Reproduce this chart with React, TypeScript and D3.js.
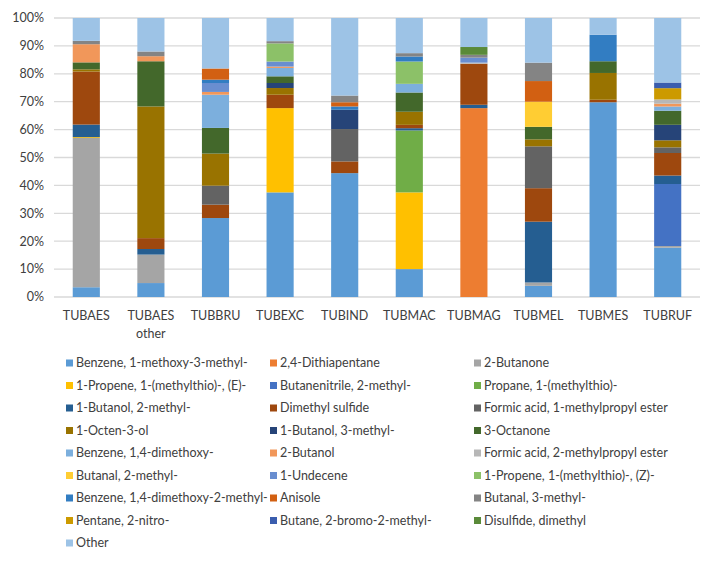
import React from "react";
import * as d3 from "d3";

const categories = ["TUBAES", "TUBAES other", "TUBBRU", "TUBEXC", "TUBIND", "TUBMAC", "TUBMAG", "TUBMEL", "TUBMES", "TUBRUF"];

const seriesNames = [
  "Benzene, 1-methoxy-3-methyl-",
  "2,4-Dithiapentane",
  "2-Butanone",
  "1-Propene, 1-(methylthio)-, (E)-",
  "Butanenitrile, 2-methyl-",
  "Propane, 1-(methylthio)-",
  "1-Butanol, 2-methyl-",
  "Dimethyl sulfide",
  "Formic acid, 1-methylpropyl ester",
  "1-Octen-3-ol",
  "1-Butanol, 3-methyl-",
  "3-Octanone",
  "Benzene, 1,4-dimethoxy-",
  "2-Butanol",
  "Formic acid, 2-methylpropyl ester",
  "Butanal, 2-methyl-",
  "1-Undecene",
  "1-Propene, 1-(methylthio)-, (Z)-",
  "Benzene, 1,4-dimethoxy-2-methyl-",
  "Anisole",
  "Butanal, 3-methyl-",
  "Pentane, 2-nitro-",
  "Butane, 2-bromo-2-methyl-",
  "Disulfide, dimethyl",
  "Other",
];

const seriesColors = [
  "#5B9BD5", "#ED7D31", "#A5A5A5", "#FFC000", "#4472C4", "#70AD47",
  "#255E91", "#9E480E", "#636363", "#997300", "#264478", "#43682B",
  "#7CAFDD", "#F1975A", "#B7B7B7", "#FFCD33", "#698ED0", "#8CC168",
  "#327DC2", "#D26012", "#848484", "#CC9A00", "#3A5DAE", "#5A8A39",
  "#9DC3E6",
];

// values per series, in category order
const benzeneMethoxyMethyl = [3.5, 5, 28.3, 37.5, 44.4, 10, 0, 4, 69.8, 17.5];
const dithiapentane = [0, 0, 0, 0, 0, 0, 67.7, 0, 0, 0];
const butanone = [53.5, 10.2, 0, 0, 0, 0, 0, 1.2, 0, 0.6];
const propeneE = [0.3, 0, 0, 30.2, 0, 27.5, 0, 0, 0, 0];
const butanenitrile = [0, 0, 0, 0, 0, 0, 0, 0, 0, 22];
const propaneMethylthio = [0, 0, 0, 0, 0, 22.2, 0, 0, 0, 0];
const butanol2methyl = [4.5, 2, 0, 0, 0, 0.8, 1.2, 21.8, 0, 3];
const dimethylSulfide = [19, 3.9, 4.8, 4.8, 4.2, 1.2, 14.7, 12, 0.9, 8];
const formic1methylpropyl = [0, 0, 6.8, 0, 11.6, 0, 0, 15, 0, 2];
const octenol = [0.8, 47.2, 11.5, 2.4, 0, 4.7, 0, 2.5, 9.6, 2.5];
const butanol3methyl = [0, 0, 0, 1.8, 6.9, 0, 0, 0, 0, 5.5];
const octanone = [2.5, 16.2, 9.2, 2.4, 0, 6.9, 0, 4.5, 4.2, 5];
const benzeneDimethoxy = [0, 0, 11.9, 3, 0, 3.1, 0, 0, 0, 1.5];
const butanol2 = [6.5, 1.8, 1, 0.5, 0, 0, 0, 0, 0, 1];
const formic2methylpropyl = [0, 0, 0, 0, 0, 0, 0.4, 0, 0, 1.5];
const butanal2methyl = [0, 0, 0, 0, 0, 0, 0, 9, 0, 0];
const undecene = [0, 0, 3.2, 1.8, 0, 0, 1.8, 0, 0, 0];
const propeneZ = [0, 0, 0, 6.5, 0, 8, 0, 0, 0, 0];
const benzeneDimethoxyMethyl = [0, 0, 1.2, 0, 1.2, 1.8, 0, 0, 9.5, 0];
const anisole = [0, 0, 4, 0, 1.5, 0, 0, 7.4, 0, 0];
const butanal3methyl = [1.2, 1.7, 0, 0.8, 2.4, 1.2, 1.0, 6.6, 0, 0];
const pentaneNitro = [0, 0, 0, 0, 0, 0, 0, 0, 0, 4];
const butaneBromo = [0, 0, 0, 0, 0, 0, 0, 0, 0, 2];
const disulfideDimethyl = [0, 0, 0, 0, 0, 0, 2.8, 0, 0, 0];
const other = [8.2, 12, 18.1, 8.3, 27.8, 12.6, 10.4, 16, 6, 22.9];

const seriesValues = [
  benzeneMethoxyMethyl, dithiapentane, butanone, propeneE, butanenitrile, propaneMethylthio,
  butanol2methyl, dimethylSulfide, formic1methylpropyl, octenol, butanol3methyl, octanone,
  benzeneDimethoxy, butanol2, formic2methylpropyl, butanal2methyl, undecene, propeneZ,
  benzeneDimethoxyMethyl, anisole, butanal3methyl, pentaneNitro, butaneBromo, disulfideDimethyl, other,
];

const yTicks = [0, 0.1, 0.2, 0.3, 0.4, 0.5, 0.6, 0.7, 0.8, 0.9, 1];

const FONT = "Lato, 'Open Sans', sans-serif";
const TEXT = "#404040";

export default function App() {
  const W = 701;
  const H = 569;
  const plotLeft = 54;
  const plotRight = 700;
  const plotTop = 18;
  const plotBottom = 297;

  const x = d3
    .scaleBand<string>()
    .domain(categories)
    .range([plotLeft, plotRight])
    .paddingInner(0.58)
    .paddingOuter(0.29);
  const y = d3.scaleLinear().domain([0, 1]).range([plotBottom, plotTop]);

  const rows = categories.map((c, i) => {
    const r: Record<string, any> = { cat: c };
    seriesNames.forEach((s, j) => (r[s] = seriesValues[j][i]));
    return r;
  });
  const stacked = d3.stack<any>().keys(seriesNames).offset(d3.stackOffsetExpand)(rows);
  const color = d3.scaleOrdinal<string, string>().domain(seriesNames).range(seriesColors);
  const fmt = d3.format(".0%");

  const legendCols = [66, 270, 474];
  const legendTop = 363;
  const legendStep = 22.5;

  return (
    <svg
      width={W}
      height={H}
      style={{ position: "absolute", left: 0, top: 0, background: "#fff" }}
      fontFamily={FONT}
    >
      <rect x={0} y={0} width={W} height={H} fill="#fff" />
      {yTicks.map((t) => (
        <g key={t}>
          <line x1={plotLeft} x2={plotRight} y1={y(t)} y2={y(t)} stroke="#D9D9D9" strokeWidth={1.3} />
          <text x={44} y={y(t)} dy="0.35em" textAnchor="end" fontSize={12.5} fill={TEXT}>
            {fmt(t)}
          </text>
        </g>
      ))}
      {stacked.map((layer) => (
        <g key={layer.key} fill={color(layer.key)}>
          {layer.map((d, i) =>
            d[1] - d[0] > 0 ? (
              <rect
                key={i}
                x={x(categories[i])}
                width={x.bandwidth()}
                y={y(d[1])}
                height={y(d[0]) - y(d[1])}
              />
            ) : null
          )}
        </g>
      ))}
      {categories.map((c) => {
        const parts = c.split(" ");
        const cx = (x(c) as number) + x.bandwidth() / 2;
        return (
          <text key={c} x={cx} y={316} textAnchor="middle" fontSize={12.5} fill={TEXT}>
            {parts.map((p, k) => (
              <tspan key={k} x={cx} dy={k === 0 ? "0.35em" : 18}>
                {p}
              </tspan>
            ))}
          </text>
        );
      })}
      {seriesNames.map((s, j) => {
        const col = j % 3;
        const row = Math.floor(j / 3);
        const lx = legendCols[col];
        const ly = legendTop + row * legendStep;
        return (
          <g key={s}>
            <rect x={lx} y={ly - 3.5} width={7} height={7} fill={color(s)} />
            <text x={lx + 10} y={ly} dy="0.35em" fontSize={12.5} fill={TEXT}>
              {s}
            </text>
          </g>
        );
      })}
    </svg>
  );
}
